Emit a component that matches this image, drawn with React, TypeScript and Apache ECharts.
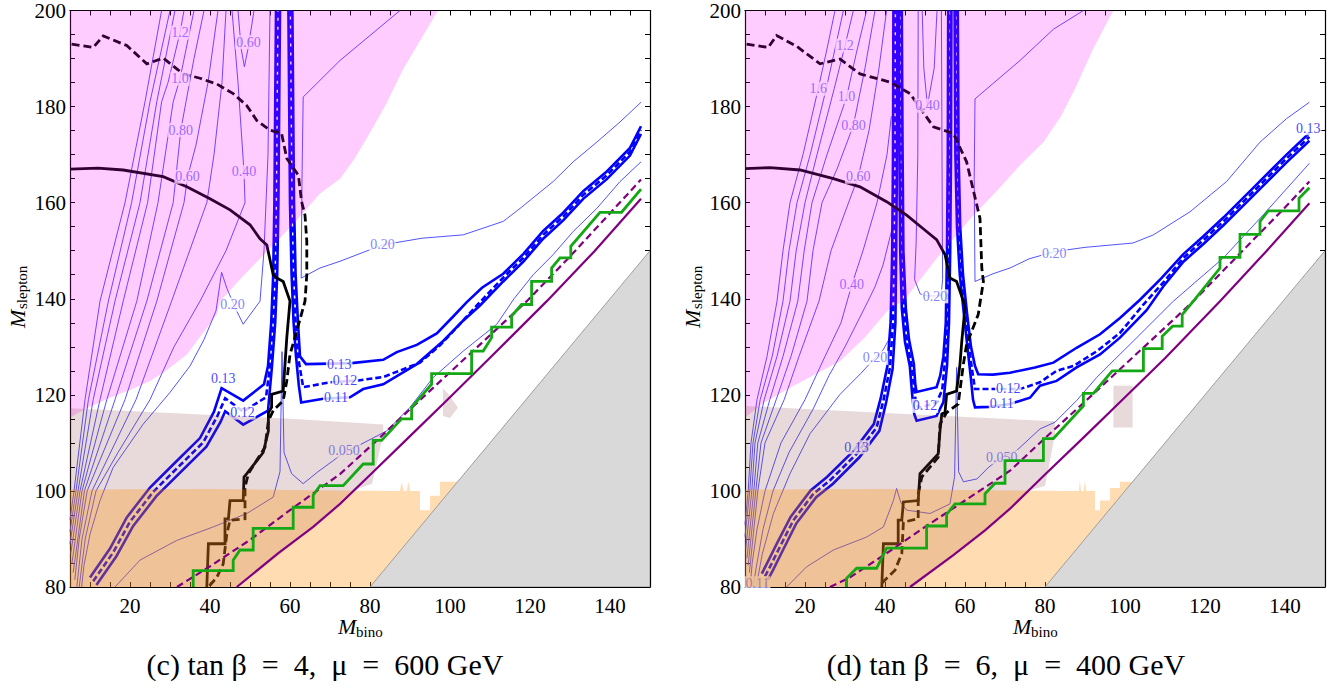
import React, { useEffect, useRef } from 'react';
import * as echarts from 'echarts';

const X_TICKS = [20, 40, 60, 80, 100, 120, 140];
const Y_TICKS = [80, 100, 120, 140, 160, 180, 200];

// ---------- shaded regions ----------
const PINK_C = [[5,200],[97,200],[92,193],[88.3,187.8],[84,180.5],[79.6,174],[76,169],[72.5,165],[67.5,161.9],[60.8,155.5],[55,150.5],[48,144.5],[42.5,139.5],[41.7,136.7],[34.2,128.4],[29,125],[25,122.9],[20,121],[15,119.4],[10,117.5],[5,115.3]];
const PINK_D = [[5,200],[97.1,200],[92,192],[87.9,184.4],[84,178],[79.6,172.6],[73.75,167.8],[68,162.5],[62.1,157.4],[53,148.5],[44.6,139.5],[41.25,138.1],[35,132],[28.75,127],[22,124],[16.25,121.5],[10,118.5],[5,115.3]];
const BAND_C = [[5,117.2],[30,116.2],[60,115],[83.3,113.8],[83.3,111.8],[81.5,105],[80.5,101.5],[75.3,100],[67.5,93.7],[57,86.5],[46.7,80],[5,80]];
const BAND_D = [[5,117.7],[40,116.2],[82.5,114.5],[82.5,112],[81.25,106.3],[80,101],[75.5,100],[71.25,96.3],[65,91.8],[57,86.6],[46.25,80],[5,80]];
const BLOB_C = [[98.25,121.3],[99.5,120.3],[102,117.3],[100,115.2],[98.25,115.6]];
const BLOB_D = [[97.1,121.9],[101.9,121.9],[101.9,113.2],[97.1,113.2]];
const ORANGE_C = [[5,100.3],[40,100.4],[70,100.1],[87.5,100],[87.9,101.9],[88.4,100],[89.2,100],[89.6,101.9],[90,100],[92.5,100],[92.5,96],[95,96],[95,99],[97.5,99],[97.5,101.9],[101.9,101.9],[80,80],[5,80]];
const ORANGE_D = [[5,100.3],[40,100.4],[70,100.1],[87.5,100],[88.5,100],[88.7,102.2],[89,100],[89.7,100],[90,102.2],[90.3,100],[92.5,100],[92.5,96],[93.75,96],[93.75,98],[96.25,98],[96.25,100.6],[98.75,100.6],[98.75,101.9],[101.9,101.9],[80,80],[5,80]];
const GREY = [[80,80],[150,150],[150,80]];

// ---------- thin contours ----------
const THIN_C = [
  [[27.9,200],[23.75,181],[18.75,160],[12.5,139.5],[8.75,119],[6,100],[5,94]],
  [[30,200],[25,181],[20.4,160],[14.6,139.5],[9.6,119],[6.5,100],[5,91.5]],
  [[31.25,200],[26.7,181],[22.5,160],[16.25,139.5],[10.8,119],[7,100],[5,89]],
  [[33.5,200],[32.5,195.4],[29.5,185],[27.9,181],[24.4,160],[18.3,139.5],[12.5,119],[7.5,100],[5.2,87]],
  [[36,200],[32.5,185.8],[30.8,181],[27,160],[21.7,139.5],[14.2,119],[8,100],[5.5,85]],
  [[38.5,200],[36,190],[34,181],[32.7,175.1],[30.8,160],[24.2,139.5],[16.25,119],[8.6,100],[5.8,83]],
  [[42,200],[39.5,185],[36.5,172],[34.4,165.4],[33.5,160],[26.7,139.5],[18.75,119],[9.3,100],[7.3,90],[6.2,81.5]],
  [[44,200],[43,185],[41,170],[39.2,160],[30.4,139.5],[21.5,119],[10.5,100],[8,90],[6.7,80]],
  [[45.5,200],[47,185],[48.5,166.4],[48.75,160],[44,150],[37.5,139.5],[31,130],[25,119],[17,108],[11.5,100],[8.8,90],[7.3,80]],
  [[47,200],[47.8,192],[48.6,188.3],[49.5,192],[51,200]],
  [[55,200],[54.5,170],[53.5,150],[52.5,139.5],[48.3,134.7],[46.7,137.4],[44.2,142.2],[42.9,145.5],[41.5,137.5],[38.5,131.5],[35,126],[30,120.5],[23.3,113.9],[15.8,104.9],[12.5,98],[10,91],[8.5,84.5],[7.9,80]],
  [[87.5,200],[72.5,189.6],[63.3,182],[63,165],[62.8,144.3],[67.5,146.4],[72.5,147.8],[83.1,151.2],[93,152.6],[103.3,153.3],[113.3,156.1],[117.5,158.8],[125.8,164.4],[130.8,168.5],[136.7,172.6],[142.5,176.8],[147.75,180.9]],
  [[16.25,80],[22.5,85.6],[31.7,89.7],[40.8,92.5],[49.2,95.3],[55.8,98.7],[57.5,104],[58,129],[58.5,108],[60.4,103.6],[63.3,101.5],[67,104],[70.8,106.3],[73.5,108],[77.5,109.6],[84.2,112.5],[90,117.4],[95.8,123.6],[103.3,129.1],[111.7,134.7],[116,140],[120.8,145],[125.8,149.2],[130.8,154],[136.7,158.8],[142.5,164.4],[147.75,168.5]],
];
const THIN_D = [
  [[27.5,200],[25.5,192],[23.3,183.7],[19.5,170],[16.25,160],[14.5,150],[13,139.5],[10.5,128],[8,119],[6.5,110],[5.8,100],[5,93]],
  [[29.6,200],[27.5,192],[25.3,183.7],[21.3,170],[18,160],[16,150],[14.5,139.5],[11.8,128],[8.8,119],[7,110],[6.2,100],[5,90.5]],
  [[32.1,200],[30,192.7],[27.3,183.7],[23,170],[20,160],[17.8,150],[16.25,139.5],[13,128],[9.8,119],[7.5,110],[6.7,100],[5.2,88]],
  [[35.4,200],[32.8,191],[30.4,182],[25.5,170],[21.75,160],[19.8,150],[18.2,139.5],[14.5,128],[11.2,119],[8.2,110],[7.2,100],[5.5,86]],
  [[37.5,200],[35,188],[32.1,176.1],[28,167],[24.25,160],[22,150],[20.5,139.5],[16.5,128],[12.8,119],[9,110],[7.7,100],[5.8,84.5]],
  [[40.4,200],[38.5,188],[36,175],[33.3,165.4],[30,158],[26.5,150],[23.5,139.5],[18.5,128],[14.8,119],[10,110],[8.2,100],[6.1,83]],
  [[41.6,178],[40.5,170],[38,160],[34.5,150],[31.7,142.9],[29,135],[25,128],[20,119],[14,110],[10,100],[8,92],[6.8,85],[6.4,81]],
  [[41.9,155],[39.5,147],[37.5,142.5],[35.75,139.5],[30,130],[26,124],[22,117],[16,108],[12,100],[9.5,92],[8,85],[7,80]],
  [[41.3,132],[39.5,129.3],[37.5,127.7],[34,124.5],[28.75,120.1],[21.25,111.9],[16.25,103.6],[12.1,95.3],[9.3,86.8],[7.8,80]],
  [[49.3,200],[49.7,188],[50.6,180.2],[52.3,188],[53,200]],
  [[48.3,200],[48.2,170],[47.8,152],[47.4,144],[48.8,141],[50.5,140.6],[54,140.6],[54.4,144],[54.3,160],[54.2,180],[54.1,200]],
  [[89.6,200],[82.1,196.1],[73.75,189.6],[62.5,181.6],[62.3,165],[62.5,143.6],[67,145.2],[71.25,146.4],[76,148.3],[82.3,149.8],[90,150.7],[102,151.6],[107.1,153.3],[116.25,158.1],[125.4,164.4],[133.75,172.6],[140.4,177.5],[146.1,180.9]],
  [[15.4,80],[20.4,84.2],[27.1,87.7],[35.4,90.4],[39.6,92.5],[42.1,98],[42.9,100.5],[44,97.5],[45.4,96],[51.25,95.3],[56.25,97.3],[57.4,103],[57.9,125.7],[58.4,104],[59.6,101.9],[63,102.5],[66,105],[69.2,107],[72.9,108.4],[78.75,112.9],[82.5,114.3],[87.9,118.8],[92.9,123.6],[96.25,126.4],[102.1,131.2],[112.1,139.5],[124.6,148.5],[134.6,157.5],[146.1,168.2]],
];

// ---------- thick relic-density contours (0.13 / 0.12 / 0.11) ----------
const B13_C = [
  [[10,82],[15,88],[19.2,94.5],[25,100.7],[30.8,105.5],[37.5,111],[41,116.5],[42.9,121.4],[48.3,118.8],[53.5,122.2],[54.5,126],[55.3,135],[55.8,145],[56.1,160],[56.3,180],[56.5,200]],
  [[60.6,200],[60.8,180],[61,160],[61.4,145],[62,135],[62.5,128],[64,126.4],[70,126.5],[75.4,126.6],[83.3,127.3],[86.7,128.9],[91.7,130.4],[96.7,132.8],[100.8,136.3],[104.2,139.3],[108,142.3],[113.3,145.2],[118.3,149.3],[123.3,154.1],[128.3,157.9],[133.3,162.4],[139.2,166.5],[145,171.4],[147.75,175.9]],
];
const B12_C = [
  [[10.8,81.2],[15.8,87.2],[20,93.6],[25.8,99.8],[31.6,104.6],[38.3,110.1],[41.8,115.5],[43.8,119.3],[48.3,116.5],[54,119.5],[55,126],[55.8,135],[56.3,145],[56.6,160],[56.8,180],[57,200]],
  [[60.1,200],[60.3,180],[60.5,160],[60.9,145],[61.4,135],[62,128],[62.8,124],[63.3,121.6],[70,122.6],[77.1,123],[83.3,123.7],[92.5,126.7],[97.5,130.3],[102,134.3],[106.7,138.6],[113.3,144.4],[118.3,148.5],[123.3,153.3],[128.3,157.1],[133.3,161.6],[139.2,165.7],[145,170.6],[147.75,175.1]],
];
const B11_C = [
  [[11.6,80.4],[16.6,86.4],[20.8,92.7],[26.6,98.9],[32.4,103.7],[39.1,109.2],[42.6,114.3],[43.8,116.6],[48.3,113.8],[54.5,116.7],[55.5,126],[56.3,135],[56.8,145],[57.1,160],[57.3,180],[57.5,200]],
  [[59.6,200],[59.8,180],[60,160],[60.4,145],[60.9,135],[61.5,128],[62.2,122],[62.8,118.4],[68.3,119.2],[75,119.5],[78.3,121.2],[83.3,122.2],[91.7,126.4],[98.3,131.2],[103,135.2],[107.5,138.6],[113.3,143.6],[118.3,147.7],[123.3,152.5],[128.3,156.3],[133.3,160.8],[139.2,164.9],[145,169.8],[147.75,174.3]],
];
const B13_D = [
  [[9.2,82.8],[10.5,84.9],[13,89.1],[16.4,94.6],[21.4,100.1],[25.5,102.9],[32.2,108.4],[37.2,113.9],[38.9,119.2],[40.6,126],[41.4,135],[41.8,150],[42,170],[42.1,200]],
  [[44.2,200],[44.4,170],[44.6,150],[45.2,138],[46,131.5],[47.2,126.5],[47.6,122],[47.9,120.6],[52.9,121.6],[53.8,124],[54.6,128],[55.2,135],[55.5,150],[55.7,170],[55.8,200]],
  [[58.2,200],[58.4,170],[58.8,155],[59.5,145],[60.5,137],[61.5,130],[62.5,126],[63.3,124.3],[67,124.2],[71.25,124.6],[77.5,125.7],[82.1,126.7],[87.9,129.8],[93.75,132.6],[98.75,136],[103.75,139.8],[109,144.2],[114.6,149.3],[119.6,153],[124.6,156.9],[131.25,162.4],[140.4,170],[146.1,174.5]],
];
const B12_D = [
  [[10,82.2],[11.25,84.2],[13.75,88.4],[17.1,93.9],[22.1,99.4],[26.25,102.2],[32.9,107.7],[37.9,113.2],[39.6,118.8],[41.25,125.7],[42,135],[42.3,150],[42.5,170],[42.6,200]],
  [[43.8,200],[44,170],[44.2,150],[44.7,138],[45.5,131],[46.7,126],[47.3,121],[47.8,118],[48.5,117.3],[52.9,118.4],[54.3,121],[55,127],[55.6,135],[55.9,150],[56.1,170],[56.2,200]],
  [[57.8,200],[58,170],[58.4,155],[59.1,145],[60.1,137],[61,130],[61.8,125],[62.5,121.2],[67.9,121.2],[73.75,121.2],[78.75,122.6],[82.9,125],[87.1,126],[93,129.1],[98.75,132.9],[104.6,138.8],[109.6,143.4],[114.6,148.5],[119.6,152.2],[124.6,156.1],[131.25,161.6],[140.4,169.2],[146.1,173.7]],
];
const B11_D = [
  [[10.7,81.5],[12,83.5],[14.5,87.7],[17.8,93.2],[22.8,98.7],[27,101.5],[33.6,107],[38.6,112.5],[40.3,118.5],[41.9,125.4],[42.6,135],[42.8,150],[43,170],[43.1,200]],
  [[43.4,200],[43.6,170],[43.8,150],[44.2,138],[45,131],[46.2,126],[46.8,120],[47.3,116],[47.9,114.6],[52.9,115.6],[54.6,118.5],[55.5,126],[56,135],[56.3,150],[56.5,170],[56.6,200]],
  [[57.4,200],[57.6,170],[58,155],[58.7,145],[59.7,137],[60.6,130],[61.4,124],[62,119],[62.5,117.4],[66.25,117.5],[71.25,118.1],[76.25,119.4],[78.75,121.9],[82.9,122.9],[87.9,125.7],[93.75,128.4],[98.75,131.9],[105.4,137.6],[109.6,142.6],[114.6,147.7],[119.6,151.4],[124.6,155.3],[131.25,160.8],[140.4,168.4],[146.1,172.9]],
];

// ---------- black exclusion lines ----------
const BLACK_SOLID_C = [[5,167],[12,167.2],[18.3,166.8],[28.3,165.4],[34.2,163.3],[40,160.8],[45,158.5],[50,155.4],[52.5,152.5],[54.2,151.2],[55.8,145],[56.7,144.3],[58.3,143.6],[60,139.5],[59.2,131.9],[58.75,126.4],[58.3,120.8],[55.4,120.1],[55.4,117.4],[54.6,116.3],[54.6,112.5],[53.3,108],[49.2,103.6],[48.5,102.9],[48.3,98],[45,98],[44.6,94.2],[43.75,94.2],[43.75,89],[39.6,89],[39.2,80]];
const BLACK_DASH_C = [[5.4,193],[10.8,192.3],[13.3,194.7],[19.2,192.7],[24.2,188.9],[28.3,190.1],[33.3,186.8],[37.5,185.9],[41.7,184.7],[45.8,182.7],[49.2,180.2],[51.7,177.1],[55,175.1],[57.9,174.4],[59.2,169.2],[62.1,165.7],[62.9,160.2],[63.75,157.4],[64.2,151.9],[64.2,145],[63.75,139.5],[61.7,133.3],[60,128.4],[59.2,122.9],[58.3,118.8],[55.8,116.7],[54.6,114.6],[53.75,109.1],[49.6,103.6],[48.75,100.8],[48.75,94.2],[45,93.9],[44.2,91],[43.3,84.8],[41.7,82],[39.6,80]];
const BLACK_SOLID_D = [[5,167.1],[11.25,167.3],[18.75,166.8],[27.1,165],[33.75,163.3],[40.4,160.2],[45.4,157.4],[50.4,154],[52.9,152.3],[55,149.2],[56.25,144.3],[57.9,143.6],[59.6,139.5],[60,138.1],[59.2,131.2],[58.75,126.4],[57.9,120.8],[55.4,120.1],[55,116.3],[54.2,116],[53.75,112.5],[53.3,107.7],[48.75,103.6],[48.3,98],[44.6,97.7],[44.2,93.9],[43.3,93.9],[43.3,89],[39.6,89],[39.2,80]];
const BLACK_DASH_D = [[5.4,193],[10.8,192.3],[12.9,194.8],[18,192.5],[23.75,188.9],[28.75,189.9],[33.75,186.8],[41.25,185.1],[46.25,182.7],[52.1,175.8],[57.1,174.4],[60.4,168.5],[63.75,156.7],[64.2,146.4],[64.6,143.6],[63.3,136.7],[60.4,130.5],[59.6,126.4],[58.3,118.1],[55.4,116.3],[53.75,113.9],[53.3,107],[49.2,102.9],[48.3,99.4],[48.3,94.2],[44.6,93.5],[44.2,87],[42.5,83.5],[39.2,80.8]];

// ---------- purple and green ----------
const PURPLE_SOLID_C = [[46.7,80],[57,87],[65.8,92.5],[72.5,97.3],[80,103.3],[90,111.4],[100,119.5],[110,127.7],[124.2,139.5],[136,149.8],[147.75,160.8]];
const PURPLE_DASH_C = [[31.75,80],[40,84.3],[50,89.8],[60,96],[72.5,103.5],[80.8,109.8],[90,117],[100,124.7],[110,132.4],[119.2,139.5],[130,148.8],[140,157.8],[147.75,164.8]];
const PURPLE_SOLID_D = [[46.25,80],[57,86.6],[65,91.8],[71.25,96.3],[80,103.4],[90,111.4],[100,119.5],[110,127.6],[123.75,139.5],[135,149.6],[146.1,159.9]];
const PURPLE_DASH_D = [[26.25,80],[31.25,82],[40,86.8],[50,92.5],[60,98],[71.25,104.2],[80,111],[90,118.6],[100,126.3],[110,134],[117.1,139.5],[130,150.5],[140,159],[146.1,164.4]];
const GREEN_C = [[35.8,80],[35.8,83.4],[45.8,83.4],[45.8,85.6],[47.5,87.7],[50.8,87.7],[50.8,92.2],[60.8,92.2],[60.8,96.6],[65.8,96.6],[65.8,99.1],[67.5,101.1],[73.3,101.1],[78.3,105.6],[80.8,105.6],[80.8,110.5],[82.9,110.5],[87.9,115],[90.4,115],[90.4,117.4],[95.4,122.2],[95.4,124.4],[105.4,124.4],[105.4,129.1],[108.3,129.1],[110.4,131.9],[110.4,134.1],[115.4,134.1],[115.4,136.4],[117.9,138.8],[120.4,138.8],[120.4,143.6],[125.4,143.6],[125.4,146.4],[127.5,148.5],[130.2,148.5],[130.2,150.9],[137.5,158],[142.9,158],[147.75,162.8]];
const GREEN_D = [[30.4,80],[30.4,81.8],[32.9,83.9],[37.9,83.9],[40.4,88.1],[50.4,88.1],[50.4,92.7],[55.4,92.7],[55.4,95.1],[57.5,97.3],[65,97.3],[65,99.4],[67.5,101.6],[70,101.6],[70,106.3],[79.6,106.3],[79.6,110.9],[82.1,110.9],[89.6,117.7],[89.6,120.3],[92.1,120.3],[96.8,125],[104.6,125],[104.6,129.6],[109.3,129.6],[109.3,132.2],[111.9,134.3],[114.3,134.3],[114.3,136.7],[117.1,139.5],[123.75,146.4],[123.75,148.6],[128.75,148.6],[128.75,153.4],[133.75,153.4],[133.75,156.1],[135.8,158.3],[143.5,158.3],[143.5,160.9],[146.1,163.1]];

// ---------- contour labels ----------
const THIN_LABELS_C = [[32.5,195.4,'1.2'],[49.6,193.4,'0.60'],[32.5,185.8,'1.0'],[32.7,175.1,'0.80'],[34.4,165.4,'0.60'],[48.5,166.4,'0.40'],[45.6,138.8,'0.20'],[73.5,108.4,'0.050'],[83.1,151.2,'0.20']];
const THICK_LABELS_C = [[43.3,123.3,'0.13'],[48.1,116.3,'0.12'],[72.3,126.4,'0.13'],[73.75,122.9,'0.12'],[71.5,119.4,'0.11']];
const THIN_LABELS_D = [[30,192.7,'1.2'],[23.3,183.7,'1.6'],[30.4,182,'1.0'],[32.1,176.1,'0.80'],[33.3,165.4,'0.60'],[50.6,180.2,'0.40'],[31.7,142.9,'0.40'],[52.5,140.5,'0.20'],[37.5,127.7,'0.20'],[69.2,107,'0.050'],[82.3,149.5,'0.20'],[8.1,80.8,'0.11']];
const THICK_LABELS_D = [[32.9,109.1,'0.13'],[50,117.7,'0.12'],[70.8,121.4,'0.12'],[69.2,118.1,'0.11'],[145.8,175.5,'0.13']];

const CAPTIONS = ['(c) tan β  =  4,  μ  =  600 GeV', '(d) tan β  =  6,  μ  =  400 GeV'];

const SERIF = '"Liberation Serif", "DejaVu Serif", serif';

const PANELS = [
  { pink: PINK_C, band: BAND_C, blob: BLOB_C, orange: ORANGE_C, thin: THIN_C, b13: B13_C, b12: B12_C, b11: B11_C,
    bs: BLACK_SOLID_C, bd: BLACK_DASH_C, ps: PURPLE_SOLID_C, pd: PURPLE_DASH_C, green: GREEN_C, tl: THIN_LABELS_C, kl: THICK_LABELS_C },
  { pink: PINK_D, band: BAND_D, blob: BLOB_D, orange: ORANGE_D, thin: THIN_D, b13: B13_D, b12: B12_D, b11: B11_D,
    bs: BLACK_SOLID_D, bd: BLACK_DASH_D, ps: PURPLE_SOLID_D, pd: PURPLE_DASH_D, green: GREEN_D, tl: THIN_LABELS_D, kl: THICK_LABELS_D },
];

function polySeries(points: number[][], g: number, fill: string, z: number, stroke?: string) {
  return {
    type: 'custom', xAxisIndex: g * 2, yAxisIndex: g * 2, z, clip: true, silent: true,
    data: points,
    renderItem: (params: any, api: any) => {
      if (params.dataIndex !== 0) return null;
      const pts = points.map((p) => api.coord(p));
      return { type: 'polygon', shape: { points: pts }, style: { fill, stroke: stroke || 'none', lineWidth: stroke ? 0.8 : 0 } };
    },
  };
}

function lineSeries(points: number[][], g: number, color: string, width: number, z: number, dash?: number[]) {
  return {
    type: 'line', xAxisIndex: g * 2, yAxisIndex: g * 2, z, data: points, showSymbol: false, symbol: 'none',
    silent: true, clip: true,
    lineStyle: { color, width, type: dash || 'solid', cap: 'butt', join: 'miter' },
  };
}

function labelSeries(labels: any[], g: number, color: string) {
  return {
    type: 'scatter', xAxisIndex: g * 2, yAxisIndex: g * 2, z: 2, silent: true, symbolSize: 0.1,
    itemStyle: { color: 'rgba(0,0,0,0)' },
    data: labels.map((l) => ({ value: [l[0], l[1]], name: l[2] })),
    label: { show: true, position: 'inside', formatter: '{b}', color, fontFamily: SERIF, fontSize: 14,
      backgroundColor: '#ffffff', padding: [0, 1] },
  };
}

function buildOption() {
  const grids = [
    { left: 70, top: 8, width: 580, height: 579 },
    { left: 745, top: 8, width: 580, height: 579 },
  ];
  const xAxes: any[] = [];
  const yAxes: any[] = [];
  grids.forEach((_, g) => {
    const line = { show: true, onZero: false, lineStyle: { color: '#000', width: 1.2 } };
    const tick = { show: true, inside: true, length: 5, lineStyle: { color: '#000', width: 1 } };
    xAxes.push({ gridIndex: g, type: 'value', min: 5, max: 150, interval: 5, position: 'bottom', axisLine: line, axisTick: tick,
      splitLine: { show: false },
      axisLabel: { show: true, interval: 0, margin: 8, fontFamily: SERIF, fontSize: 21, color: '#000',
        formatter: (v: number) => (X_TICKS.includes(v) ? String(v) : '') } });
    xAxes.push({ gridIndex: g, type: 'value', min: 5, max: 150, interval: 5, position: 'top', axisLine: line, axisTick: tick,
      splitLine: { show: false }, axisLabel: { show: false } });
    yAxes.push({ gridIndex: g, type: 'value', min: 80, max: 200, interval: 5, position: 'left', axisLine: line, axisTick: tick,
      splitLine: { show: false },
      axisLabel: { show: true, interval: 0, margin: 4, fontFamily: SERIF, fontSize: 21, color: '#000',
        formatter: (v: number) => (Y_TICKS.includes(v) ? String(v) : '') } });
    yAxes.push({ gridIndex: g, type: 'value', min: 80, max: 200, interval: 5, position: 'right', axisLine: line, axisTick: tick,
      splitLine: { show: false }, axisLabel: { show: false } });
  });

  const series: any[] = [];
  PANELS.forEach((p, g) => {
    p.thin.forEach((l) => series.push(lineSeries(l, g, '#4040ff', 0.9, 2)));
    p.b13.forEach((l) => series.push(lineSeries(l, g, '#0000ff', 2.6, 2)));
    p.b11.forEach((l) => series.push(lineSeries(l, g, '#0000ff', 2.6, 2)));
    p.b12.forEach((l) => series.push(lineSeries(l, g, '#0000ff', 2.6, 2, [6, 3])));
    series.push(lineSeries(p.bs, g, '#000000', 2.8, 2));
    series.push(lineSeries(p.bd, g, '#000000', 2.8, 2, [8, 4]));
    series.push(labelSeries(p.tl, g, '#6464ff'));
    series.push(labelSeries(p.kl, g, '#1010ff'));
    series.push(polySeries(p.pink, g, 'rgba(255,0,255,0.2)', 3));
    series.push(polySeries(p.band, g, 'rgba(140,70,70,0.2)', 3));
    series.push(polySeries(p.blob, g, 'rgba(140,70,70,0.2)', 3));
    series.push(polySeries(p.orange, g, 'rgba(255,140,0,0.3)', 3));
    series.push(lineSeries(p.ps, g, '#800080', 2.2, 4));
    series.push(lineSeries(p.pd, g, '#800080', 2.2, 4, [7, 4]));
    series.push(lineSeries(p.green, g, '#14a814', 2.8, 4));
    series.push(polySeries(GREY, g, '#d9d9d9', 5, '#8a8a8a'));
  });

  const italicM = (x: number, y: number) => ({ type: 'text', x, y,
    style: { text: 'M', fontFamily: SERIF, fontSize: 22, fontStyle: 'italic', fill: '#000', verticalAlign: 'middle', align: 'left' } });
  const sub = (x: number, y: number, t: string) => ({ type: 'text', x, y,
    style: { text: t, fontFamily: SERIF, fontSize: 15, fill: '#000', verticalAlign: 'middle', align: 'left' } });
  const ylab = (x: number) => ({ type: 'group', x, y: 328, rotation: Math.PI / 2,
    children: [italicM(0, 0), sub(19, 5, 'slepton')] });
  const caption = (x: number, t: string) => ({ type: 'text', x, y: 664,
    style: { text: t, fontFamily: SERIF, fontSize: 30, fill: '#000', align: 'center', verticalAlign: 'middle' } });

  return {
    animation: false,
    backgroundColor: '#ffffff',
    grid: grids,
    xAxis: xAxes,
    yAxis: yAxes,
    series,
    graphic: [
      italicM(338, 626), sub(356, 632, 'bino'),
      italicM(1013, 626), sub(1031, 632, 'bino'),
      ylab(17), ylab(692),
      caption(325, CAPTIONS[0]),
      caption(1006, CAPTIONS[1]),
    ],
  };
}

export default function App() {
  const ref = useRef<HTMLDivElement>(null);
  useEffect(() => {
    if (!ref.current) return;
    const chart = echarts.init(ref.current, undefined, { renderer: 'svg' });
    chart.setOption(buildOption() as any);
    return () => chart.dispose();
  }, []);
  return <div ref={ref} style={{ position: 'absolute', left: 0, top: 0, width: 1341, height: 692 }} />;
}
